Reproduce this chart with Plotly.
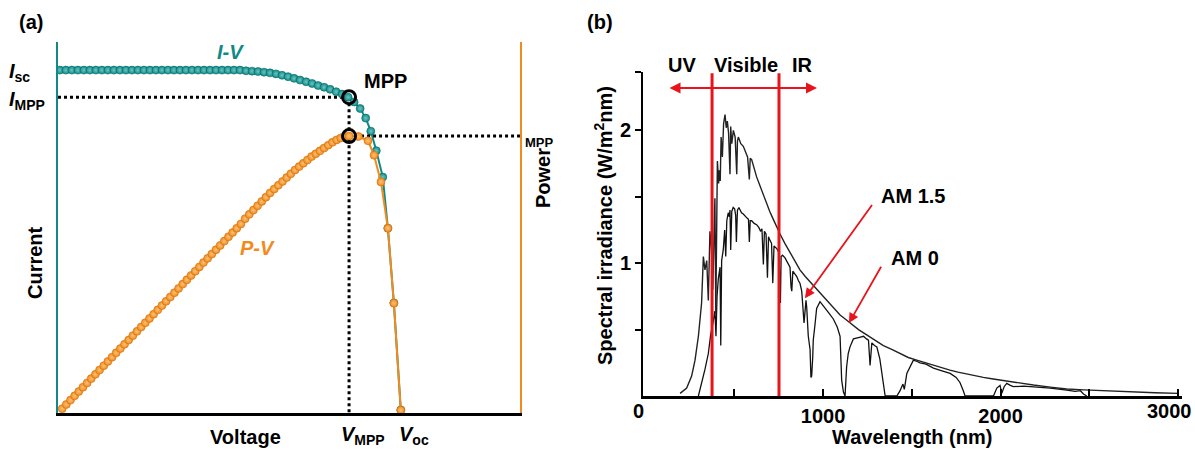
import plotly.graph_objects as go

W, H = 1195, 450
FONT = "Arial, 'Liberation Sans', sans-serif"
TEAL = "#0f8a87"
TEAL_HI = "#6cc6c1"
ORANGE = "#f28a1c"
ORANGE_HI = "#fcc27a"
RED = "#e8141b"

# ---------------- Panel (a): I-V and P-V curves (normalised units) ----------------
IV_V = [0.004, 0.017, 0.030, 0.043, 0.056, 0.069, 0.082, 0.095, 0.108, 0.121,
        0.134, 0.147, 0.160, 0.173, 0.186, 0.199, 0.212, 0.225, 0.238, 0.251,
        0.264, 0.277, 0.290, 0.303, 0.316, 0.329, 0.342, 0.355, 0.368, 0.381,
        0.394, 0.407, 0.420, 0.433, 0.446, 0.459, 0.472, 0.485, 0.498, 0.511,
        0.524, 0.537, 0.550, 0.563, 0.576, 0.589, 0.602, 0.615, 0.628,
        0.641, 0.654, 0.666, 0.677, 0.689, 0.703, 0.714, 0.727, 0.742]
IV_I = [1.000, 1.000, 1.000, 1.000, 1.000, 1.000, 1.000, 1.000, 1.000, 1.000,
        1.000, 1.000, 1.000, 1.000, 1.000, 1.000, 1.000, 1.000, 1.000, 1.000,
        1.000, 1.000, 1.000, 1.000, 1.000, 1.000, 1.000, 1.000, 1.000, 1.000,
        1.000, 0.998, 0.997, 0.996, 0.994, 0.992, 0.989, 0.985, 0.981, 0.976,
        0.971, 0.966, 0.961, 0.955, 0.950, 0.944, 0.937, 0.930, 0.921,
        0.907, 0.888, 0.860, 0.822, 0.765, 0.688, 0.539, 0.321, 0.009]

PV_V = [0.009, 0.018, 0.027, 0.036, 0.045, 0.054, 0.063, 0.072, 0.081, 0.090,
        0.099, 0.108, 0.117, 0.126, 0.135, 0.144, 0.153, 0.162, 0.171, 0.180,
        0.189, 0.198, 0.207, 0.216, 0.225, 0.234, 0.243, 0.252, 0.261, 0.270,
        0.279, 0.288, 0.297, 0.306, 0.315, 0.324, 0.333, 0.342, 0.351, 0.360,
        0.369, 0.378, 0.387, 0.396, 0.405, 0.414, 0.423, 0.432, 0.441, 0.450,
        0.459, 0.468, 0.477, 0.486, 0.495, 0.504, 0.513, 0.522, 0.531, 0.540,
        0.549, 0.558, 0.567, 0.576, 0.585, 0.594, 0.603, 0.612, 0.621, 0.630,
        0.650, 0.671, 0.684, 0.699, 0.714, 0.727, 0.742]
PV_P = [0.009, 0.018, 0.027, 0.036, 0.045, 0.054, 0.063, 0.072, 0.081, 0.090,
        0.099, 0.108, 0.117, 0.126, 0.135, 0.144, 0.153, 0.162, 0.171, 0.180,
        0.189, 0.198, 0.207, 0.216, 0.225, 0.234, 0.243, 0.252, 0.261, 0.270,
        0.279, 0.288, 0.297, 0.306, 0.315, 0.324, 0.333, 0.342, 0.351, 0.360,
        0.369, 0.378, 0.387, 0.396, 0.407, 0.416, 0.425, 0.434, 0.443, 0.452,
        0.461, 0.469, 0.477, 0.485, 0.493, 0.501, 0.509, 0.516, 0.523, 0.530,
        0.537, 0.543, 0.549, 0.555, 0.561, 0.567, 0.572, 0.576, 0.579, 0.580,
        0.579, 0.570, 0.540, 0.484, 0.387, 0.230, 0.006]

V_MPP, I_MPP, P_MPP = 0.630, 0.921, 0.580
V_MAX, I_MAX, P_MAX = 1.0, 1.082, 0.777

# ---------------- Panel (b): solar spectra ----------------
AM0_WL = [195, 232, 260, 279, 298, 316, 326, 335, 345, 354, 363, 372, 379, 386, 391,
          396, 400, 405, 412, 416, 421, 426, 433, 440, 448, 455, 461, 468, 476, 480,
          486, 495, 505, 514, 518, 523, 537, 551, 566, 575, 585, 590, 598, 612, 626,
          640, 654, 668, 683, 700, 720, 740, 758, 785, 814, 840, 870, 900, 927, 955,
          983, 1010, 1039, 1070, 1096, 1125, 1152, 1200, 1246, 1290, 1340, 1390, 1434,
          1480, 1528, 1575, 1620, 1670, 1715, 1760, 1810, 1855, 1903, 1950, 1997, 2090,
          2185, 2280, 2373, 2470, 2561, 2650, 2747, 2870, 3000]
AM0_VAL = [0.02, 0.06, 0.15, 0.27, 0.45, 0.70, 1.05, 0.95, 1.02, 0.72, 1.24, 1.10, 0.80, 1.30, 1.49,
           0.62, 1.55, 1.77, 1.60, 1.70, 1.62, 1.95, 1.80, 2.05, 2.12, 2.02, 2.07, 1.98, 1.67, 2.03,
           1.90, 2.00, 1.95, 1.67, 1.92, 1.95, 1.90, 1.88, 1.83, 1.80, 1.63, 1.79, 1.78, 1.71, 1.65,
           1.60, 1.55, 1.50, 1.45, 1.39, 1.33, 1.27, 1.22, 1.15, 1.08, 1.02, 0.95, 0.90, 0.86, 0.82,
           0.78, 0.74, 0.70, 0.65, 0.61, 0.58, 0.55, 0.50, 0.46, 0.42, 0.38, 0.35, 0.32,
           0.29, 0.27, 0.25, 0.23, 0.21, 0.195, 0.18, 0.165, 0.152, 0.14, 0.13, 0.12, 0.10,
           0.083, 0.067, 0.053, 0.046, 0.04, 0.035, 0.03, 0.025, 0.02]

AM15_WL = [298, 316, 335, 354, 367, 380, 391, 397, 403, 410, 420, 424, 429, 438, 446,
           452, 458, 466, 472, 476, 480, 486, 494, 502, 508, 512, 518, 526, 532, 541,
           551, 560, 572, 580, 585, 590, 598, 612, 626, 638, 649, 656, 664, 670, 679,
           687, 693, 702, 710, 717, 724, 731, 740, 752, 760, 764, 772, 786, 800, 814,
           820, 824, 830, 842, 852, 861, 870, 880, 893, 904, 908, 917, 927, 932, 936,
           942, 945, 955, 964, 983, 1002, 1030, 1058, 1080, 1096, 1105, 1115, 1124, 1133,
           1142, 1152, 1171, 1200, 1228, 1245, 1256, 1265, 1275, 1290, 1303, 1320, 1331,
           1343, 1350, 1416, 1434, 1450, 1458, 1472, 1490, 1509, 1530, 1547, 1580, 1622,
           1670, 1716, 1750, 1772, 1790, 1800, 1960, 1979, 1997, 2007, 2020, 2035, 2055,
           2072, 2130, 2185, 2280, 2373, 2420, 2450, 2467, 2486]
AM15_VAL = [0.00, 0.09, 0.20, 0.32, 0.46, 0.55, 0.64, 0.45, 0.75, 0.88, 0.97, 0.38, 1.02, 1.10, 1.25,
            1.05, 1.32, 1.38, 1.35, 1.40, 1.10, 1.39, 1.42, 1.41, 1.36, 1.16, 1.40, 1.42, 1.40, 1.38,
            1.37, 1.36, 1.34, 1.33, 1.16, 1.32, 1.32, 1.30, 1.29, 1.27, 1.24, 1.26, 0.99, 1.24, 1.22,
            0.89, 1.20, 1.17, 1.15, 0.85, 1.13, 1.12, 1.11, 1.08, 0.70, 1.05, 1.06, 1.04, 1.00, 0.97,
            0.82, 0.79, 0.94, 0.92, 0.90, 0.87, 0.85, 0.79, 0.55, 0.72, 0.67, 0.45, 0.35, 0.14, 0.15,
            0.29, 0.42, 0.54, 0.66, 0.71, 0.68, 0.63, 0.58, 0.52, 0.45, 0.12, 0.03, 0.00, 0.22,
            0.32, 0.37, 0.43, 0.44, 0.45, 0.43, 0.42, 0.23, 0.40, 0.38, 0.37, 0.28, 0.17,
            0.05, 0.00, 0.00, 0.04, 0.09, 0.05, 0.17, 0.22, 0.27, 0.26, 0.25, 0.24, 0.21,
            0.19, 0.17, 0.14, 0.10, 0.04, 0.00, 0.00, 0.06, 0.08, 0.02, 0.07, 0.095, 0.08,
            0.07, 0.075, 0.07, 0.06, 0.045, 0.035, 0.04, 0.015, 0.00]

BAND_EDGES = [375, 752]          # UV|Visible and Visible|IR boundaries (nm)
BAND_TOP = 2.43
ARROW_SPAN = [127, 966]          # double-headed arrow extent (nm)
ARROW_LEVEL = 2.32
AM15_ARROW = [(1282, 1.45), (898, 0.737)]   # tail, head
AM0_ARROW = [(1332, 0.985), (1146, 0.549)]

WL_RANGE = [-14, 3022]
IRR_RANGE = [0, 2.44]
WL_TICKS = [500, 1000, 1500, 2000, 2500, 3000]
WL_TICK_TEXT = ["", "1000", "", "2000", "", ""]

fig = go.Figure()

dot_line = dict(color="black", width=3, dash="dot")

# dotted guides (panel a)
fig.add_trace(go.Scatter(x=[0, V_MPP], y=[I_MPP, I_MPP], mode="lines", line=dot_line,
                         xaxis="x", yaxis="y", hoverinfo="skip"))
fig.add_trace(go.Scatter(x=[V_MPP, V_MPP], y=[I_MPP, 0], mode="lines", line=dot_line,
                         xaxis="x", yaxis="y", hoverinfo="skip"))

# I-V curve
fig.add_trace(go.Scatter(
    x=IV_V, y=IV_I, mode="lines+markers", xaxis="x", yaxis="y",
    line=dict(color=TEAL, width=2),
    marker=dict(size=8, color=TEAL, line=dict(color="#0a6a67", width=0.6),
                gradient=dict(type="radial", color=TEAL_HI)),
    hoverinfo="skip"))
fig.add_trace(go.Scatter(x=[V_MPP], y=[I_MPP], mode="markers", xaxis="x", yaxis="y",
                         marker=dict(symbol="circle-open", size=13, color="black",
                                     line=dict(width=3, color="black")),
                         hoverinfo="skip"))

# P-V curve (power axis)
fig.add_trace(go.Scatter(x=[V_MPP, V_MAX], y=[P_MPP, P_MPP], mode="lines", line=dot_line,
                         xaxis="x", yaxis="y2", hoverinfo="skip"))
fig.add_trace(go.Scatter(
    x=PV_V, y=PV_P, mode="lines+markers", xaxis="x", yaxis="y2",
    line=dict(color=ORANGE, width=2),
    marker=dict(size=8, color=ORANGE, line=dict(color="#d0700a", width=0.6),
                gradient=dict(type="radial", color=ORANGE_HI)),
    hoverinfo="skip"))
fig.add_trace(go.Scatter(x=[V_MPP], y=[P_MPP], mode="markers", xaxis="x", yaxis="y2",
                         marker=dict(symbol="circle-open", size=13, color="black",
                                     line=dict(width=3, color="black")),
                         hoverinfo="skip"))

# ---- panel (b) traces ----
fig.add_trace(go.Scatter(x=AM15_WL, y=AM15_VAL, mode="lines", xaxis="x2", yaxis="y3",
                         line=dict(color="#111111", width=1.3), hoverinfo="skip"))
fig.add_trace(go.Scatter(x=AM0_WL, y=AM0_VAL, mode="lines", xaxis="x2", yaxis="y3",
                         line=dict(color="#222222", width=1.4), hoverinfo="skip"))
for edge in BAND_EDGES:
    fig.add_trace(go.Scatter(x=[edge, edge], y=[0, BAND_TOP], mode="lines", xaxis="x2", yaxis="y3",
                             line=dict(color=RED, width=3), hoverinfo="skip"))

annotations = []


def label(text, x, y, size=20, color="black", angle=0, xanchor="center",
          yanchor="middle", italic=False, bold=True):
    annotations.append(dict(
        text=text, x=x / W, y=1 - y / H, xref="paper", yref="paper", showarrow=False,
        xanchor=xanchor, yanchor=yanchor, textangle=angle,
        font=dict(family=FONT, size=size, color=color,
                  weight="bold" if bold else "normal",
                  style="italic" if italic else "normal")))


# panel (a) labels
label("(a)", 31, 22)
label("<i>I</i><sub>sc</sub>", 7, 72, xanchor="left")
label("<i>I</i><sub>MPP</sub>", 7, 100, xanchor="left")
label("I-V", 230, 52, color=TEAL, italic=True)
label("MPP", 385, 81)
label("MPP", 523, 142, size=13, xanchor="left")
label("P-V", 257, 248, color=ORANGE, italic=True)
label("Current", 35, 263, angle=-90)
label("Power", 543, 178, angle=-90)
label("Voltage", 245, 437)
label("<i>V</i><sub>MPP</sub>", 339, 435, xanchor="left")
label("<i>V</i><sub>oc</sub>", 397, 435, xanchor="left")

# panel (b) labels
label("(b)", 600, 22)
label("UV", 682, 65)
label("Visible", 746, 65)
label("IR", 802, 65)
label("Spectral irradiance (W/m<sup>2</sup>nm)", 603, 226, angle=-90)
label("Wavelength (nm)", 912, 437)
label("0", 638, 411)
label("3000", 1194, 411, xanchor="right")
label("AM 1.5", 913, 196)
label("AM 0", 915, 258)

# arrows (panel b)
annotations.append(dict(
    x=ARROW_SPAN[1], y=ARROW_LEVEL, ax=ARROW_SPAN[0], ay=ARROW_LEVEL,
    xref="x2", yref="y3", axref="x2", ayref="y3", text="", showarrow=True,
    arrowhead=2, startarrowhead=2, arrowside="end+start", arrowsize=1.1,
    startarrowsize=1.1, arrowwidth=2, arrowcolor=RED))
for (tail, head) in (AM15_ARROW, AM0_ARROW):
    annotations.append(dict(
        x=head[0], y=head[1], ax=tail[0], ay=tail[1],
        xref="x2", yref="y3", axref="x2", ayref="y3", text="", showarrow=True,
        arrowhead=2, arrowsize=1.1, arrowwidth=1.8, arrowcolor=RED))

tickfont = dict(family=FONT, size=20, color="black", weight="bold")

fig.update_layout(
    width=W, height=H, margin=dict(l=0, r=0, t=0, b=0),
    paper_bgcolor="white", plot_bgcolor="rgba(0,0,0,0)",
    showlegend=False, hovermode=False,
    annotations=annotations,
    xaxis=dict(domain=[58 / W, 520 / W], range=[0, V_MAX], anchor="y",
               showline=True, linecolor="black", linewidth=3,
               showgrid=False, zeroline=False, showticklabels=False, ticks=""),
    yaxis=dict(domain=[1 - 413 / H, 1 - 42 / H], range=[0, I_MAX], anchor="x",
               showline=True, linecolor=TEAL, linewidth=2,
               showgrid=False, zeroline=False, showticklabels=False, ticks=""),
    yaxis2=dict(range=[0, P_MAX], overlaying="y", side="right", anchor="x",
                showline=True, linecolor=ORANGE, linewidth=2,
                showgrid=False, zeroline=False, showticklabels=False, ticks=""),
    xaxis2=dict(domain=[643 / W, 1182 / W], range=WL_RANGE, anchor="y3",
                showline=True, linecolor="black", linewidth=3,
                showgrid=False, zeroline=False,
                ticks="inside", ticklen=7, tickwidth=2, tickcolor="black",
                tickvals=WL_TICKS, ticktext=WL_TICK_TEXT,
                tickfont=tickfont),
    yaxis3=dict(domain=[1 - 396 / H, 1 - 72 / H], range=IRR_RANGE, anchor="x2",
                showline=True, linecolor="black", linewidth=2,
                showgrid=False, zeroline=False,
                ticks="outside", ticklen=6, tickwidth=2, tickcolor="black",
                tickvals=[0.5, 1, 1.5, 2, IRR_RANGE[1]],
                ticktext=["", "1", "", "2", ""],
                tickfont=tickfont),
)

fig.write_html("out.html")
